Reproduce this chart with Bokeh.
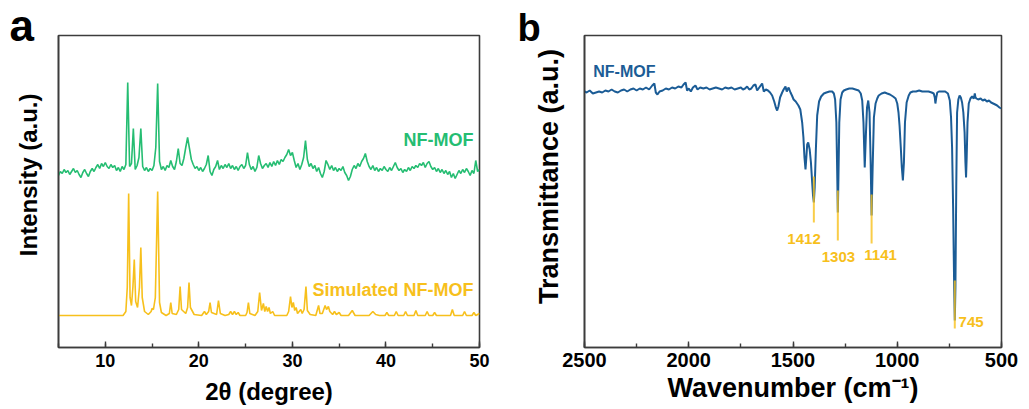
from bokeh.plotting import figure
from bokeh.layouts import row
from bokeh.models import Range1d, SingleIntervalTicker, FixedTicker
from bokeh.core.properties import value
from bokeh.embed import file_html
from bokeh.resources import INLINE

FONT = "Liberation Sans"
GREEN = "#25BD72"
YELLOW = "#F7C01C"
BLUE = "#1B5C96"
FRAME = "#3c3c3c"
NBSP = "\u00a0"

# ---------------- panel a : XRD ----------------
# experimental NF-MOF pattern sampled every 0.2 degree from 5.0 to 50.0
exp_start, exp_step = 5.0, 0.2
exp_intensity = [
    172, 176, 174, 178, 175, 177, 173, 176, 179, 175,
    177, 173, 170, 175, 178, 174, 171, 176, 179, 176,
    180, 183, 179, 184, 181, 185, 181, 179, 183, 180,
    182, 177, 180, 176, 181, 178, 183, 265, 181, 184,
    219, 178, 182, 190, 219, 181, 177, 180, 176, 179,
    177, 182, 200, 264, 186, 178, 181, 177, 182, 180,
    187, 181, 178, 186, 199, 184, 182, 189, 200, 210,
    199, 188, 183, 179, 181, 177, 180, 176, 179, 183,
    192, 176, 172, 178, 181, 187, 178, 182, 179, 183,
    180, 184, 179, 182, 178, 181, 177, 181, 183, 179,
    182, 195, 183, 178, 181, 176, 180, 192, 184, 179,
    182, 184, 180, 185, 181, 186, 182, 187, 183, 188,
    186, 190, 193, 198, 192, 195, 187, 180, 184, 178,
    183, 190, 207, 188, 181, 184, 179, 182, 176, 180,
    174, 170, 176, 187, 183, 178, 182, 177, 180, 176,
    179, 177, 181, 175, 172, 167, 171, 178, 182, 179,
    184, 181, 186, 189, 194, 186, 181, 178, 182, 177,
    180, 176, 179, 177, 181, 178, 176, 180, 177, 181,
    185, 180, 177, 179, 175, 178, 176, 180, 177, 181,
    179, 182, 180, 184, 182, 185, 180, 184, 186, 181,
    178, 180, 176, 179, 175, 178, 174, 177, 173, 176,
    170, 174, 169, 173, 177, 174, 178, 175, 179, 176,
    172, 177, 174, 187, 176, 178,
]
exp_deg = [round(exp_start + exp_step * i, 1) for i in range(len(exp_intensity))]

# simulated pattern
sim_deg = [5.0, 11.9, 12.2, 12.35, 12.5, 12.65, 12.8, 12.95, 13.1, 13.25, 13.45, 13.65,
           13.8, 13.95, 14.2, 14.6, 14.9, 15.0, 15.15, 15.35, 15.6, 15.8, 16.0, 16.5,
           16.85, 17.0, 17.15, 17.6, 17.85, 18.0, 18.15, 18.6, 18.8, 18.95, 19.1, 19.5,
           20.3, 20.6, 20.8, 21.05, 21.2, 21.35, 21.9, 22.1, 22.3, 22.8, 23.2, 23.4,
           23.6, 23.8, 24.0, 24.2, 24.4, 25.0, 25.15, 25.3, 25.45, 26.0, 26.3, 26.5,
           26.7, 26.9, 27.05, 27.2, 27.35, 27.5, 27.65, 27.9, 28.1, 29.4, 29.6, 29.8,
           29.95, 30.1, 30.25, 30.4, 30.55, 30.9, 31.05, 31.25, 31.45, 31.6, 31.9, 32.5,
           32.8, 32.95, 33.2, 33.5, 33.65, 33.85, 34.0, 34.3, 34.5, 34.7, 35.0, 35.2,
           36.0, 36.4, 36.7, 38.2, 38.6, 38.9, 39.3, 39.9, 40.1, 40.3, 40.9, 41.1, 41.3,
           41.9, 42.1, 42.3, 43.0, 43.2, 43.4, 44.2, 44.4, 44.6, 45.0, 45.2, 45.4, 46.9,
           47.1, 47.3, 48.2, 48.4, 48.6, 49.2, 49.4, 49.6, 50.0]
sim_intensity = [32, 32, 36, 60, 154, 50, 42, 60, 88, 46, 40, 60,
                 100, 50, 36, 33, 36, 39, 38, 50, 156, 45, 35, 32,
                 34, 45, 34, 33, 38, 61, 38, 34, 40, 65, 40, 33,
                 32, 36, 33, 36, 45, 35, 33, 47, 34, 32, 33, 36,
                 33, 36, 33, 35, 32, 32, 35, 45, 34, 32, 36, 55,
                 37, 44, 36, 41, 36, 40, 34, 36, 32, 32, 36, 51,
                 40, 45, 37, 40, 34, 38, 34, 38, 61, 37, 33, 32,
                 42, 34, 34, 42, 38, 41, 36, 33, 36, 33, 35, 32,
                 32, 37, 32, 32, 36, 33, 32, 32, 35, 32, 32, 36, 32,
                 32, 36, 32, 32, 37, 32, 32, 36, 32, 32, 35, 32, 32,
                 38, 32, 32, 36, 32, 32, 35, 32, 34]

p1 = figure(width=510, height=409, x_range=Range1d(5, 50), y_range=Range1d(0, 312),
            output_backend="svg", toolbar_location=None, title="a",
            min_border_left=58, min_border_right=31, min_border_top=35, min_border_bottom=62)

p1.line(exp_deg, exp_intensity, line_color=GREEN, line_width=1.6)
p1.line(sim_deg, sim_intensity, line_color=YELLOW, line_width=1.6)

p1.text(x=[49.35], y=[207.5], text=["NF-MOF"], text_align="right", text_baseline="middle",
        text_font=value(FONT), text_font_style="bold", text_font_size="18px", text_color=GREEN)
p1.text(x=[49.35], y=[57.5], text=["Simulated NF-MOF"], text_align="right", text_baseline="middle",
        text_font=value(FONT), text_font_style="bold", text_font_size="18px", text_color=YELLOW)

# ---------------- panel b : FTIR ----------------
ir_wavenumber = [2500, 2490, 2475, 2460, 2445, 2430, 2415, 2400, 2385, 2370, 2355, 2340, 2325,
                 2310, 2295, 2280, 2265, 2250, 2235, 2220, 2205, 2190, 2175, 2165, 2158, 2150,
                 2140, 2125, 2110, 2095, 2080, 2065, 2050, 2035, 2025, 2015, 2008, 2000, 1990,
                 1980, 1968, 1958, 1945, 1930, 1915, 1900, 1885, 1870, 1855, 1840, 1825, 1810,
                 1795, 1780, 1765, 1750, 1740, 1730, 1720, 1710, 1700, 1690, 1680, 1672, 1665,
                 1655, 1648, 1640, 1630, 1620, 1610, 1600, 1590, 1582, 1576, 1570, 1562, 1552,
                 1545, 1536, 1530, 1521, 1512, 1505, 1497, 1487, 1474, 1465, 1456, 1450, 1445,
                 1440, 1436, 1432, 1427, 1420, 1414, 1408, 1404, 1400, 1396, 1390, 1384, 1375,
                 1365, 1352, 1340, 1325, 1312, 1304, 1298, 1292, 1288, 1285, 1282, 1278, 1272,
                 1264, 1256, 1245, 1230, 1215, 1200, 1185, 1175, 1168, 1162, 1156, 1150, 1145,
                 1139, 1133, 1128, 1123, 1118, 1112, 1104, 1096, 1089, 1075, 1060, 1048, 1035,
                 1020, 1008, 1000, 994, 989, 983, 978, 973, 968, 963, 955, 945, 937, 925, 910,
                 895, 880, 865, 850, 835, 825, 820, 817, 813, 808, 800, 785, 770, 757, 748, 742,
                 737, 732, 727, 724, 721, 717, 713, 707, 701, 695, 689, 683, 677, 673, 670, 667,
                 663, 657, 649, 641, 633, 628, 625, 620, 612, 600, 590, 580, 570, 560, 550, 540,
                 530, 521, 510, 502]
ir_transmittance = [256, 255, 257, 254, 255, 256, 255, 257, 256, 258, 256, 255, 257,
                    258, 256, 258, 259, 257, 259, 258, 260, 258, 262, 264, 255, 253,
                    256, 257, 259, 258, 260, 259, 261, 260, 263, 265, 257, 259, 256,
                    260, 262, 258, 260, 259, 260, 258, 259, 260, 259, 258, 260, 259,
                    260, 258, 259, 260, 258, 259, 261, 258, 259, 262, 263, 257, 259,
                    262, 264, 256, 258, 257, 255, 252, 246, 240, 237, 241, 250, 255,
                    258, 261, 256, 260, 255, 252, 248, 246, 242, 238, 225, 210, 190,
                    178, 190, 203, 205, 198, 185, 165, 152, 145, 160, 200, 232, 246,
                    251, 254, 255, 256, 256, 254, 248, 225, 175, 135, 170, 225, 248,
                    255, 257, 258, 259, 259, 258, 257, 254, 247, 225, 180, 215, 240,
                    247, 235, 190, 132, 180, 230, 244, 249, 252, 254, 255, 254, 253,
                    251, 249, 244, 235, 222, 200, 180, 167, 185, 225, 245, 252, 255, 256, 256,
                    257, 256, 256, 256, 255, 254, 250, 244, 250, 255, 256, 256, 256, 254, 247, 230,
                    200, 140, 60, 27, 60, 160, 235, 248, 252, 250, 245, 235, 215, 185, 170, 190,
                    225, 244, 249, 251, 249, 254, 250, 249, 248, 249, 247, 248, 246, 247, 245, 244,
                    243, 242, 240, 239]

band_labels = ["1412", "1303", "1141", "745"]
band_wavenumber = [1400, 1285, 1123, 724]
band_top = [171, 157, 153, 67]
band_bottom = [125, 107, 104, 19]

p2 = figure(width=519, height=409, x_range=Range1d(2500, 500), y_range=Range1d(0, 312),
            output_backend="svg", toolbar_location=None, title="b",
            min_border_left=74, min_border_right=28, min_border_top=35, min_border_bottom=62)

p2.line(ir_wavenumber, ir_transmittance, line_color=BLUE, line_width=2)
p2.segment(x0=band_wavenumber, y0=band_top, x1=band_wavenumber, y1=band_bottom,
           line_color=YELLOW, line_width=2, line_alpha=0.8)

p2.text(x=[1447, 1282, 1080], y=[109, 91, 93], text=band_labels[:3], text_align="center",
        text_baseline="middle", text_font=value(FONT), text_font_style="bold",
        text_font_size="15px", text_color=YELLOW)
p2.text(x=[706], y=[26], text=band_labels[3:], text_align="left",
        text_baseline="middle", text_font=value(FONT), text_font_style="bold",
        text_font_size="15px", text_color=YELLOW)
p2.text(x=[2458], y=[276], text=["NF-MOF"], text_align="left", text_baseline="middle",
        text_font=value(FONT), text_font_style="bold", text_font_size="16px", text_color=BLUE)

# ---------------- styling ----------------
def style(p, xlabel, ylabel, interval, tick_size, label_size, tick_standoff, xlab_standoff,
          ylab_standoff, letter_size, letter_offset, letter_standoff):
    p.xgrid.visible = False
    p.ygrid.visible = False
    p.outline_line_color = FRAME
    p.outline_line_width = 1.6
    p.background_fill_color = "white"
    p.border_fill_color = "white"
    t = p.title
    t.align = "left"
    t.offset = letter_offset
    t.standoff = letter_standoff
    t.text_font = FONT
    t.text_font_style = "bold"
    t.text_font_size = letter_size
    t.text_color = "black"
    xa = p.xaxis[0]
    xa.ticker = SingleIntervalTicker(interval=interval, num_minor_ticks=2)
    xa.axis_label = xlabel
    xa.axis_line_color = FRAME
    xa.axis_line_width = 1.6
    xa.major_tick_in = 6
    xa.major_tick_out = 0
    xa.minor_tick_in = 4
    xa.minor_tick_out = 0
    xa.major_tick_line_color = FRAME
    xa.minor_tick_line_color = FRAME
    xa.major_tick_line_width = 1.4
    xa.minor_tick_line_width = 1.4
    xa.major_label_text_font = FONT
    xa.major_label_text_font_style = "bold"
    xa.major_label_text_font_size = tick_size
    xa.major_label_text_color = "black"
    xa.major_label_standoff = tick_standoff
    xa.axis_label_text_font = FONT
    xa.axis_label_text_font_style = "bold"
    xa.axis_label_text_font_size = label_size
    xa.axis_label_text_color = "black"
    xa.axis_label_standoff = xlab_standoff
    ya = p.yaxis[0]
    ya.ticker = FixedTicker(ticks=[])
    ya.axis_label = ylabel
    ya.axis_line_color = FRAME
    ya.axis_line_width = 1.6
    ya.major_tick_in = 0
    ya.major_tick_out = 0
    ya.minor_tick_in = 0
    ya.minor_tick_out = 0
    ya.major_label_standoff = 0
    ya.axis_label_text_font = FONT
    ya.axis_label_text_font_style = "bold"
    ya.axis_label_text_font_size = label_size
    ya.axis_label_text_color = "black"
    ya.axis_label_standoff = ylab_standoff

style(p1, "2θ (degree)", NBSP * 5 + "Intensity (a.u.)", 10, "18px", "24px", 6, 8, 17,
      "44px", -49, -29)
style(p2, "Wavenumber (cm⁻¹)", NBSP * 4 + "Transmittance (a.u.)", 500, "20px", "27px", 5, 3, 21,
      "38px", -67, -26)

layout = row(p1, p2)
open("out.html", "w").write(file_html(layout, INLINE))
